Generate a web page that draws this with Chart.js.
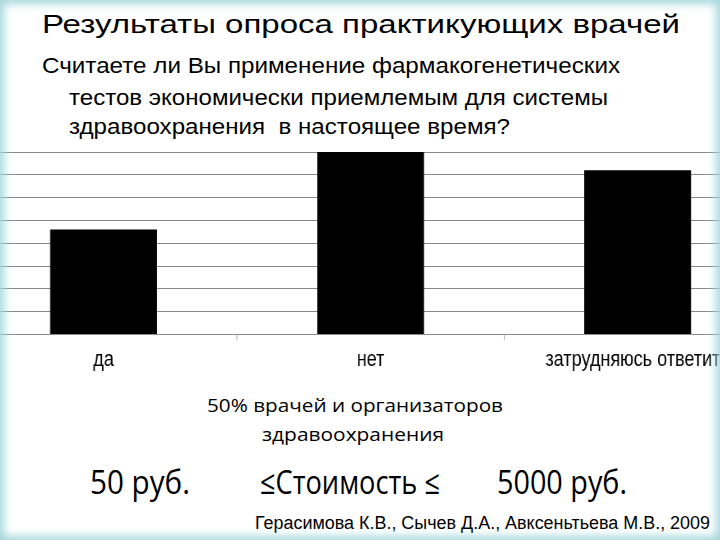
<!DOCTYPE html>
<html>
<head>
<meta charset="utf-8">
<script src="https://cdn.jsdelivr.net/npm/chart.js@4.4.1/dist/chart.umd.min.js"></script>
<style>
  html, body { margin: 0; padding: 0; background: #fff; }
  #slide { position: relative; width: 720px; height: 540px; overflow: hidden; background: #fff; }
  #frame { position: absolute; left: 0; top: 0; width: 720px; height: 540px;
           box-shadow: inset 0 0 9px 4px #a6d8dc; pointer-events: none; }
  .t { position: absolute; white-space: pre; line-height: 1; color: #000; transform-origin: 0 0; }
  .arial { font-family: "Liberation Sans", Arial, sans-serif; }
  .cal { font-family: "Open Sans", sans-serif; }
  /* the slide is squeezed horizontally, so the chart is drawn wider and scaled back */
  #wrap { position: absolute; left: -30px; top: 140px; width: 977px; height: 240px;
          transform: scaleX(0.82); transform-origin: 0 0; }
</style>
</head>
<body>
<div id="slide">
  <div id="wrap"><canvas id="myChart"></canvas></div>

  <div class="t arial" style="left:42px; top:12px; font-size:25px" data-w="638">Результаты опроса практикующих врачей</div>
  <div class="t arial" style="left:42px; top:55px; font-size:22px" data-w="578">Считаете ли Вы применение фармакогенетических</div>
  <div class="t arial" style="left:69px; top:87px; font-size:22px" data-w="539">тестов экономически приемлемым для системы</div>
  <div class="t arial" style="left:69px; top:116px; font-size:22px" data-w="441">здравоохранения  в настоящее время?</div>

  <div class="t cal" style="left:207px; top:396px; font-size:19px" data-w="296">50% врачей и организаторов</div>
  <div class="t cal" style="left:262px; top:425px; font-size:19px" data-w="182">здравоохранения</div>

  <div class="t cal" style="left:90px; top:465px; font-size:33px" data-w="100">50 руб.</div>
  <div class="t cal" style="left:260px; top:465px; font-size:33px" data-w="180">≤Стоимость ≤</div>
  <div class="t cal" style="left:497px; top:465px; font-size:33px" data-w="130">5000 руб.</div>

  <div class="t arial" style="left:255px; top:514px; font-size:18px" data-w="455">Герасимова К.В., Сычев Д.А., Авксеньтьева М.В., 2009</div>

  <div id="frame"></div>
</div>
<script>
// fit text widths to the slide
document.querySelectorAll(".t[data-w]").forEach((el) => {
  const w = el.getBoundingClientRect().width;
  el.style.transform = "scaleX(" + (parseFloat(el.dataset.w) / w) + ")";
});

const ctx = document.getElementById("myChart").getContext("2d");

const CATEGORIES = ["да", "нет", "затрудняюсь ответить"];
const ANSWERS = [23, 40, 36];
const Y_MAX = 40;
const Y_STEP = 5;

const data = {
  labels: CATEGORIES,
  datasets: [
    {
      data: ANSWERS,
      backgroundColor: "#000",
      barPercentage: 0.4,
      categoryPercentage: 1,
    },
  ],
};

const config = {
  type: "bar",
  data: data,
  options: {
    responsive: true,
    maintainAspectRatio: false,
    animation: false,
    layout: { padding: { top: 12, left: 0, right: 0, bottom: 0 } },
    plugins: {
      legend: { display: false },
      tooltip: { enabled: false },
    },
    scales: {
      y: {
        min: 0,
        max: Y_MAX,
        ticks: { display: false, stepSize: Y_STEP },
        grid: { color: "#8a8a8a", lineWidth: 1, drawTicks: false },
        border: { display: false },
        afterFit: (scale) => { scale.width = 0; },
      },
      x: {
        grid: { drawOnChartArea: false, drawTicks: true, tickLength: 5, color: "#a0a0a0" },
        border: { color: "#8a8a8a" },
        ticks: {
          color: "#000",
          padding: 7,
          maxRotation: 0,
          autoSkip: false,
          font: { family: "'Liberation Sans', Arial, sans-serif", size: 22 },
        },
      },
    },
  },
};

new Chart(ctx, config);
</script>
</body>
</html>
